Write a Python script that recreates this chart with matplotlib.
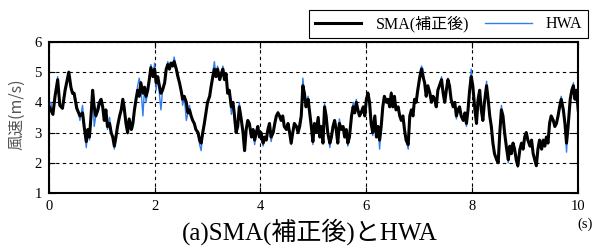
import matplotlib
matplotlib.use('Agg')
import matplotlib.pyplot as plt

plt.rcParams['font.family'] = ['Liberation Serif', 'Noto Sans CJK JP']

# time (s)
time = [
    0.00, 0.04, 0.08, 0.12, 0.17, 0.21, 0.26, 0.31, 0.38, 0.42, 0.45, 0.48, 0.53, 0.59, 0.64, 0.67,
    0.71, 0.74, 0.77, 0.80, 0.83, 0.86, 0.89, 0.93, 0.96, 0.99, 1.02, 1.05, 1.08, 1.11, 1.15, 1.18,
    1.21, 1.24, 1.27, 1.30, 1.34, 1.37, 1.40, 1.43, 1.46, 1.49, 1.52, 1.56, 1.59, 1.62, 1.65, 1.68,
    1.71, 1.74, 1.78, 1.81, 1.84, 1.87, 1.90, 1.93, 1.97, 2.00, 2.03, 2.06, 2.09, 2.12, 2.15, 2.19,
    2.22, 2.25, 2.28, 2.31, 2.34, 2.37, 2.41, 2.44, 2.47, 2.50, 2.53, 2.56, 2.60, 2.63, 2.66, 2.69,
    2.72, 2.75, 2.78, 2.82, 2.85, 2.88, 2.91, 2.94, 2.97, 3.00, 3.04, 3.07, 3.10, 3.13, 3.16, 3.19,
    3.23, 3.26, 3.29, 3.32, 3.35, 3.38, 3.41, 3.45, 3.48, 3.51, 3.54, 3.57, 3.60, 3.64, 3.67, 3.70,
    3.73, 3.76, 3.79, 3.83, 3.86, 3.89, 3.92, 3.95, 3.98, 4.01, 4.05, 4.08, 4.11, 4.14, 4.17, 4.20,
    4.24, 4.27, 4.30, 4.33, 4.36, 4.39, 4.42, 4.45, 4.49, 4.52, 4.55, 4.58, 4.61, 4.64, 4.68, 4.71,
    4.74, 4.77, 4.80, 4.83, 4.86, 4.90, 4.93, 4.96, 4.99, 5.02, 5.05, 5.09, 5.12, 5.15, 5.18, 5.21,
    5.24, 5.27, 5.31, 5.34, 5.37, 5.40, 5.43, 5.46, 5.49, 5.53, 5.56, 5.59, 5.62, 5.65, 5.68, 5.72,
    5.75, 5.78, 5.81, 5.84, 5.87, 5.90, 5.94, 5.97, 6.00, 6.03, 6.06, 6.09, 6.12, 6.16, 6.19, 6.22,
    6.25, 6.28, 6.31, 6.34, 6.38, 6.41, 6.44, 6.47, 6.50, 6.53, 6.56, 6.60, 6.63, 6.66, 6.69, 6.72,
    6.75, 6.79, 6.82, 6.85, 6.88, 6.91, 6.94, 6.97, 7.01, 7.04, 7.07, 7.10, 7.13, 7.16, 7.20, 7.23,
    7.26, 7.29, 7.32, 7.35, 7.38, 7.42, 7.45, 7.48, 7.51, 7.54, 7.57, 7.60, 7.64, 7.67, 7.70, 7.73,
    7.76, 7.79, 7.83, 7.86, 7.89, 7.92, 7.95, 7.98, 8.01, 8.05, 8.08, 8.11, 8.14, 8.17, 8.20, 8.23,
    8.27, 8.30, 8.33, 8.36, 8.39, 8.42, 8.46, 8.49, 8.52, 8.55, 8.58, 8.61, 8.65, 8.68, 8.71, 8.74,
    8.77, 8.80, 8.83, 8.86, 8.90, 8.93, 8.96, 8.99, 9.02, 9.05, 9.09, 9.12, 9.15, 9.18, 9.21, 9.24,
    9.27, 9.31, 9.34, 9.37, 9.40, 9.43, 9.46, 9.49, 9.53, 9.56, 9.59, 9.62, 9.65, 9.68, 9.72, 9.75,
    9.78, 9.81, 9.85, 9.88, 9.91, 9.94, 9.97, 10.00,
]

# SMA (corrected) wind speed, m/s
sma = [
    3.9, 3.75, 3.6, 4.2, 4.75, 3.9, 3.8, 4.4, 5.0, 4.5, 4.3, 4.3, 3.8, 3.55, 3.65, 3.2,
    2.7, 3.1, 2.85, 3.55, 4.4, 3.85, 3.55, 3.75, 4.0, 4.1, 3.85, 3.4, 3.75, 3.2, 3.3, 3.0,
    2.85, 2.55, 2.85, 3.2, 3.55, 3.75, 4.1, 3.75, 3.3, 3.0, 3.45, 3.1, 3.3, 3.75, 4.1, 4.4,
    4.2, 4.65, 4.3, 4.5, 4.2, 4.4, 4.75, 5.15, 4.85, 5.1, 4.65, 4.85, 4.55, 4.3, 4.4, 4.65,
    5.1, 5.25, 5.1, 5.3, 5.2, 5.35, 5.1, 4.85, 4.65, 4.4, 4.1, 4.2, 4.0, 3.65, 3.75, 3.55,
    3.4, 3.3, 3.1, 3.0, 2.75, 2.65, 3.0, 3.3, 3.65, 4.0, 4.2, 4.55, 4.85, 5.1, 4.85, 5.1,
    4.75, 4.95, 5.1, 4.75, 4.95, 4.3, 4.4, 3.85, 4.0, 3.55, 3.0, 3.2, 3.85, 3.4, 3.0, 2.4,
    3.1, 3.4, 3.3, 2.85, 3.1, 2.75, 3.0, 3.2, 2.85, 3.0, 2.65, 2.85, 2.75, 3.1, 3.3, 2.85,
    3.0, 3.3, 3.55, 3.65, 3.55, 3.4, 3.55, 3.2, 3.1, 3.3, 3.0, 2.65, 3.0, 3.3, 3.2, 3.0,
    3.2, 3.55, 4.55, 4.3, 3.85, 4.1, 3.65, 3.2, 2.7, 3.3, 3.0, 3.5, 2.85, 3.2, 2.65, 3.85,
    3.55, 3.0, 2.65, 2.85, 3.2, 3.4, 3.1, 2.65, 3.3, 3.1, 3.2, 2.85, 3.1, 2.65, 2.85, 3.55,
    3.85, 3.65, 4.0, 3.75, 3.55, 3.65, 3.85, 3.55, 4.1, 4.3, 4.0, 3.3, 3.0, 3.55, 2.85, 3.2,
    2.75, 3.2, 3.85, 4.2, 4.0, 4.1, 3.85, 4.3, 3.85, 4.2, 3.75, 3.85, 3.55, 3.4, 3.55, 3.1,
    2.75, 2.6, 3.55, 3.75, 3.55, 4.1, 4.0, 4.4, 4.85, 5.1, 4.85, 4.65, 4.2, 4.55, 4.3, 4.0,
    4.2, 4.1, 3.85, 4.4, 4.55, 4.75, 4.3, 4.0, 4.4, 4.75, 4.55, 4.1, 3.85, 4.0, 3.55, 3.75,
    3.85, 3.55, 3.4, 3.65, 3.3, 3.75, 4.4, 4.85, 4.55, 3.75, 3.3, 4.1, 4.4, 3.75, 3.4, 4.0,
    4.55, 4.1, 3.55, 3.2, 2.65, 2.3, 2.1, 2.0, 3.0, 3.75, 3.55, 3.0, 2.45, 2.1, 2.55, 2.3,
    2.65, 2.45, 2.1, 1.9, 2.45, 2.65, 2.45, 2.85, 3.0, 2.75, 2.55, 2.75, 2.3, 2.1, 1.9, 2.45,
    2.75, 2.45, 2.75, 2.55, 2.85, 2.65, 3.3, 3.55, 3.4, 3.2, 3.3, 3.55, 3.85, 4.1, 3.75, 3.3,
    2.65, 3.2, 4.1, 4.4, 4.55, 4.1, 4.4, 3.75,
]

# HWA wind speed, m/s
hwa = [
    3.9, 4.0, 3.6, 4.2, 4.85, 3.9, 3.8, 4.4, 5.0, 4.5, 4.3, 4.3, 3.95, 3.4, 3.9, 3.2,
    2.5, 3.1, 2.75, 3.55, 4.4, 3.2, 3.55, 3.95, 4.0, 4.1, 3.85, 3.4, 3.75, 3.1, 3.5, 3.0,
    2.85, 2.45, 2.85, 3.2, 3.55, 3.75, 4.1, 3.95, 3.3, 2.95, 3.45, 3.1, 3.15, 3.75, 4.1, 4.55,
    4.8, 4.5, 3.55, 4.5, 4.0, 4.4, 4.75, 5.25, 4.85, 5.3, 4.4, 4.85, 4.3, 3.75, 4.4, 4.65,
    5.1, 5.35, 5.1, 5.3, 5.2, 5.5, 5.1, 5.0, 4.65, 4.4, 3.9, 4.2, 3.4, 3.65, 3.9, 3.55,
    3.4, 3.3, 3.1, 3.0, 2.6, 2.4, 3.0, 3.3, 3.65, 4.0, 4.2, 4.55, 5.0, 5.35, 4.85, 5.2,
    4.75, 4.95, 5.2, 4.75, 4.95, 4.3, 4.4, 3.6, 4.0, 3.3, 3.0, 3.2, 4.0, 3.4, 3.0, 2.45,
    3.1, 3.4, 3.3, 2.85, 3.1, 2.6, 3.0, 3.2, 2.85, 3.0, 2.55, 2.85, 2.75, 3.1, 3.3, 2.7,
    3.0, 3.3, 3.55, 3.7, 3.55, 3.4, 3.55, 3.2, 3.1, 3.3, 3.0, 2.6, 3.0, 3.3, 3.2, 3.0,
    3.4, 3.55, 4.8, 4.3, 3.85, 4.2, 3.65, 3.2, 2.6, 3.3, 3.0, 3.5, 2.85, 3.2, 2.65, 3.95,
    3.55, 3.0, 2.5, 2.85, 3.2, 3.4, 3.1, 2.65, 3.45, 3.1, 3.2, 2.85, 3.1, 2.55, 2.85, 3.55,
    4.0, 3.65, 4.1, 3.75, 3.55, 3.65, 3.85, 3.55, 4.1, 4.35, 4.0, 3.3, 2.9, 3.55, 2.85, 3.2,
    2.45, 3.2, 3.85, 4.2, 4.0, 4.1, 3.85, 4.35, 3.85, 4.2, 3.75, 3.85, 3.55, 3.4, 3.55, 3.1,
    2.75, 2.45, 3.55, 3.75, 3.55, 4.1, 4.0, 4.4, 4.85, 5.2, 5.1, 4.65, 4.2, 4.55, 4.3, 4.0,
    4.2, 4.1, 3.85, 4.4, 4.55, 4.85, 4.3, 4.0, 4.4, 4.8, 4.55, 4.1, 3.85, 4.0, 3.45, 3.75,
    3.85, 3.55, 3.4, 3.65, 3.2, 3.75, 4.4, 5.1, 4.55, 3.75, 3.3, 4.1, 4.4, 3.75, 3.4, 4.0,
    4.7, 4.1, 3.55, 3.2, 2.65, 2.3, 2.1, 2.0, 3.0, 3.9, 3.55, 3.0, 2.45, 2.0, 2.55, 2.3,
    2.65, 2.45, 2.1, 1.85, 2.45, 2.65, 2.45, 2.85, 3.0, 2.75, 2.55, 2.75, 2.3, 2.1, 1.95, 2.45,
    2.75, 2.45, 2.75, 2.55, 2.85, 2.65, 3.4, 3.55, 3.4, 3.2, 3.3, 3.55, 3.85, 4.2, 3.75, 3.3,
    2.35, 3.2, 4.1, 4.4, 4.65, 4.1, 4.4, 3.75,
]

fig = plt.figure(figsize=(6.01, 2.48), dpi=100)
ax = fig.add_axes([0.081, 0.222, 0.881, 0.609])

ax.plot(time, sma, color='black', linewidth=2.2, label='SMA(補正後)', zorder=3)
ax.plot(time, hwa, color='#2f7fef', linewidth=1.0, label='HWA', zorder=2)

ax.set_xlim(0, 10)
ax.set_ylim(1, 6)
ax.set_xticks([0, 2, 4, 6, 8, 10])
ax.set_yticks([1, 2, 3, 4, 5, 6])
ax.grid(True, color='black', linestyle=(0, (3, 3)), linewidth=0.8)
ax.tick_params(direction='in', length=4, width=0.8, right=True, top=True, labelsize=10.5, pad=5)
for sp in ax.spines.values():
    sp.set_linewidth(1.5)

fig.text(17 / 601, 1 - 114 / 248, '風速(m/s)', rotation=90, ha='center', va='center',
         color='#555555', fontsize=11.5, family=['Noto Sans CJK JP'])
fig.text(585 / 601, 1 - 224 / 248, '(s)', ha='center', va='center', fontsize=10.5)
fig.text(0.515, 1 - 232 / 248, '(a)SMA(補正後)とHWA', ha='center', va='center', fontsize=18)

leg = fig.legend(loc='upper right', bbox_to_anchor=(588 / 601, 1 - 10 / 248), ncol=2,
                 frameon=True, fancybox=False, edgecolor='black', framealpha=1,
                 handlelength=2.9, fontsize=11.5, borderpad=0.35, columnspacing=1.0,
                 handletextpad=0.9, borderaxespad=0.0)
leg.get_frame().set_linewidth(0.8)

fig.savefig('out.png', dpi=100)
